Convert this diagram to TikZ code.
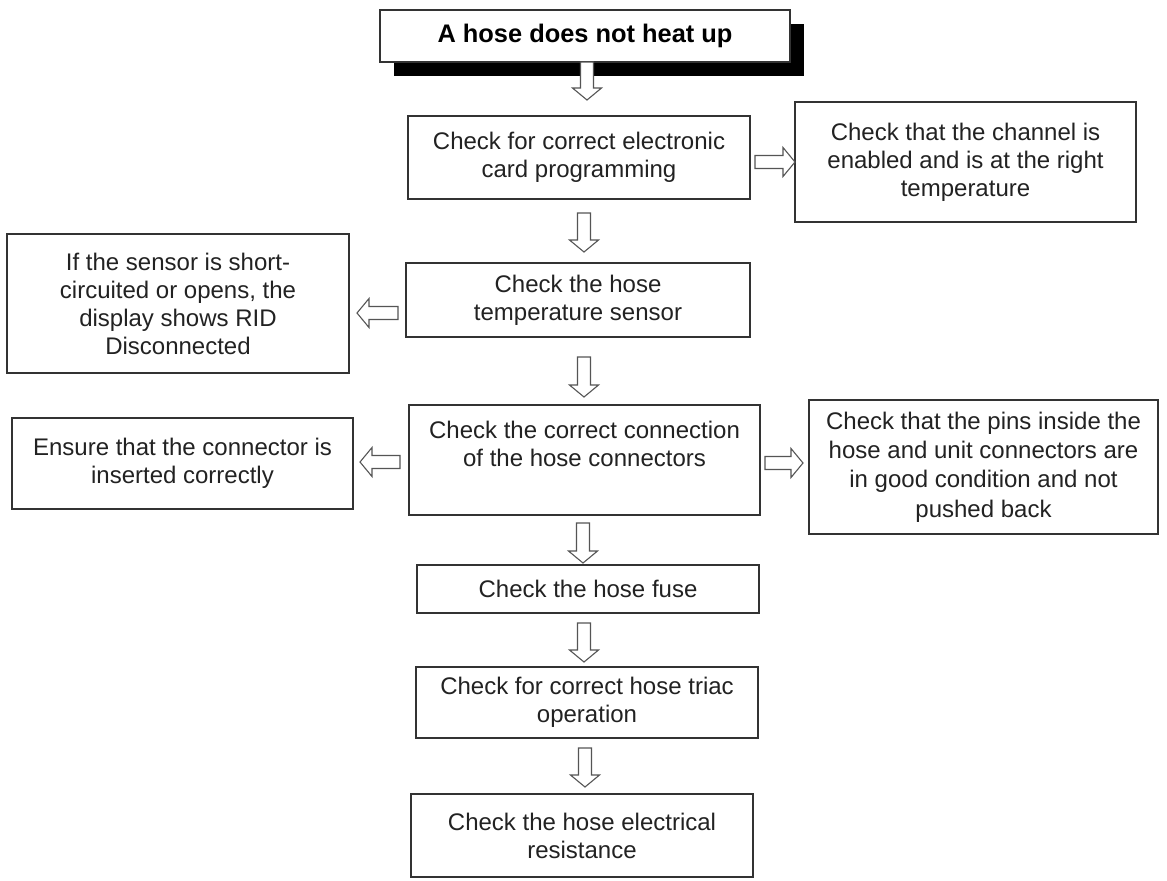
\documentclass[tikz,border=0pt]{standalone}
\usepackage{fontspec}
\setmainfont{Liberation Sans}
\usetikzlibrary{shadows}
\newcommand\varr[3]{% x, y-start, y-end (head at y-end)
  \draw[arrowline] ({#1-6.5},#2) -- ({#1-6.5},{#3-12*sign(#3-#2)}) -- ({#1-14.5},{#3-12*sign(#3-#2)}) -- (#1,#3)
   -- ({#1+14.5},{#3-12*sign(#3-#2)}) -- ({#1+6.5},{#3-12*sign(#3-#2)}) -- ({#1+6.5},#2) -- cycle;}
\newcommand\harr[3]{% x-start, x-end (head at x-end), y
  \draw[arrowline] (#1,{#3-6.5}) -- ({#2-12*sign(#2-#1)},{#3-6.5}) -- ({#2-12*sign(#2-#1)},{#3-14.5}) -- (#2,#3)
   -- ({#2-12*sign(#2-#1)},{#3+14.5}) -- ({#2-12*sign(#2-#1)},{#3+6.5}) -- (#1,{#3+6.5}) -- cycle;}
\definecolor{txt}{HTML}{222222}
\definecolor{edge}{HTML}{333333}
\definecolor{arr}{HTML}{555555}
\begin{document}
\begin{tikzpicture}[x=0.5pt,y=-0.5pt,
  box/.style={draw=edge, line width=0.7pt, align=center, inner sep=0pt, text=txt,
    font=\fontsize{12}{14}\selectfont, fill=white},
  arrowline/.style={draw=arr, line width=0.55pt, fill=white, line join=miter}]
\useasboundingbox (0,0) rectangle (1167,880);
\fill[white] (0,0) rectangle (1167,880);
% title
\node[box, line width=0.8pt, minimum width=205pt, minimum height=26pt,
  font=\fontsize{12.7}{15}\selectfont\bfseries, text=black,
  drop shadow={shadow xshift=7pt, shadow yshift=-7pt, fill=black, opacity=1}]
  (title) at (585,36) {A hose does not heat up};
% main column
\node[box, minimum width=171pt, minimum height=41.5pt] (b2) at (579,157.5)
  {Check for correct electronic\\card programming};
\node[box, minimum width=170.5pt, minimum height=60pt] (r1) at (965.5,162)
  {Check that the channel is\\enabled and is at the right\\temperature};
\node[box, minimum width=172pt, minimum height=37pt] (b4) at (578,300)
  {Check the hose\\temperature sensor};
\node[box, minimum width=171pt, minimum height=69.5pt] (l1) at (178,303.5)
  {If the sensor is short-\\circuited or opens, the\\display shows RID\\Disconnected};
\node[box, minimum width=175.5pt, minimum height=55pt] (b5) at (584.5,460) {};
\node[align=center, inner sep=0pt, text=txt, font=\fontsize{12}{14}\selectfont] (b5t) at (584.5,444)
  {Check the correct connection\\of the hose connectors};
\node[box, minimum width=170.5pt, minimum height=45.5pt] (l2) at (182.5,463.5)
  {Ensure that the connector is\\inserted correctly};
\node[box, minimum width=174.5pt, minimum height=67pt, font=\fontsize{12}{14.7}\selectfont] (r2) at (983.5,467)
  {Check that the pins inside the\\hose and unit connectors are\\in good condition and not\\pushed back};
\node[box, minimum width=171pt, minimum height=24pt] (b6) at (588,589)
  {Check the hose fuse};
\node[box, minimum width=171pt, minimum height=35.5pt] (b7) at (587,702.5)
  {Check for correct hose triac\\operation};
\node[box, minimum width=171pt, minimum height=41.5pt] (b8) at (582,835.5)
  {Check the hose electrical\\resistance};
% arrows
\varr{587}{62}{100}
\harr{755}{795}{162}
\varr{584}{213}{252}
\harr{398}{357}{313}
\varr{584}{357}{397}
\harr{400}{360}{462}
\harr{765}{803}{463}
\varr{583}{523}{563}
\varr{584}{623}{662}
\varr{585}{748}{787}
\end{tikzpicture}
\end{document}
